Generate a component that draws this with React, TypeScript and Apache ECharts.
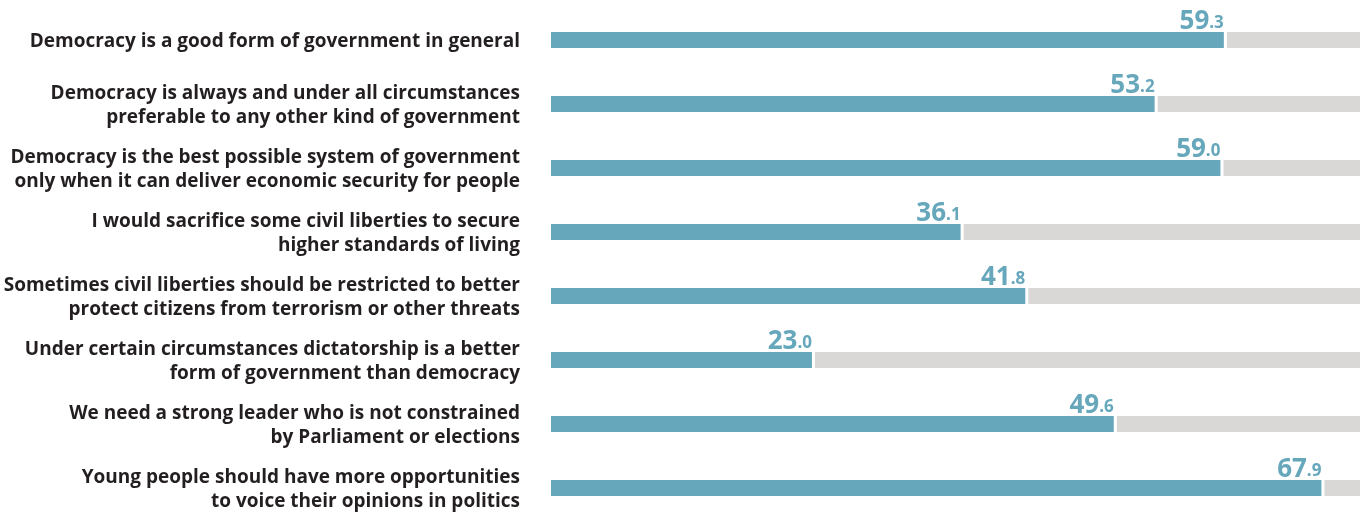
import React, { useEffect, useRef } from "react";
import * as echarts from "echarts";

const categories = [
  "Democracy is a good form of government in general",
  "Democracy is always and under all circumstances\npreferable to any other kind of government",
  "Democracy is the best possible system of government\nonly when it can deliver economic security for people",
  "I would sacrifice some civil liberties to secure\nhigher standards of living",
  "Sometimes civil liberties should be restricted to better\nprotect citizens from terrorism or other threats",
  "Under certain circumstances dictatorship is a better\nform of government than democracy",
  "We need a strong leader who is not constrained\nby Parliament or elections",
  "Young people should have more opportunities\nto voice their opinions in politics",
];
const values = [59.3, 53.2, 59.0, 36.1, 41.8, 23.0, 49.6, 67.9];
const AXIS_MAX = 71.3;
const GAP = 0.27;

const BLUE = "#66a7bb";
const GRAY = "#d9d8d6";

export default function App() {
  const ref = useRef<HTMLDivElement>(null);
  useEffect(() => {
    if (!ref.current) return;
    const chart = echarts.init(ref.current, undefined, { renderer: "svg" });
    chart.setOption({
      animation: false,
      grid: { left: 551, top: 8, right: 8, bottom: 0, containLabel: false },
      xAxis: {
        type: "value",
        min: 0,
        max: AXIS_MAX,
        show: false,
      },
      yAxis: {
        type: "category",
        data: categories,
        inverse: true,
        axisLine: { show: false },
        axisTick: { show: false },
        splitLine: { show: false },
        axisLabel: {
          margin: 31,
          align: "right",
          color: "#231f20",
          fontFamily: "Open Sans",
          fontWeight: "bold",
          fontSize: 19,
          lineHeight: 24,
          padding: [3, 0, 0, 0],
        },
      },
      series: [
        {
          type: "bar",
          stack: "s",
          data: values,
          barWidth: 16,
          itemStyle: { color: BLUE },
          label: {
            show: true,
            position: ["100%", 0],
            align: "right",
            verticalAlign: "bottom",
            offset: [0, -0.5],
            formatter: (p: any) => {
              const s = Number(p.value).toFixed(1).split(".");
              return `{a|${s[0]}}{b|.${s[1]}}`;
            },
            rich: {
              a: {
                fontFamily: "Open Sans",
                fontWeight: "bold",
                fontSize: 26,
                color: BLUE,
                lineHeight: 30,
                verticalAlign: "bottom",
              },
              b: {
                fontFamily: "Open Sans",
                fontWeight: "bold",
                fontSize: 17,
                color: BLUE,
                lineHeight: 30,
                verticalAlign: "bottom",
                padding: [0, 0, 1.5, 0],
              },
            },
          },
        },
        {
          type: "bar",
          stack: "s",
          data: values.map(() => GAP),
          barWidth: 16,
          itemStyle: { color: "rgba(0,0,0,0)" },
          silent: true,
        },
        {
          type: "bar",
          stack: "s",
          data: values.map((v) => AXIS_MAX - v - GAP),
          barWidth: 16,
          itemStyle: { color: GRAY },
          silent: true,
        },
      ],
    });
    return () => chart.dispose();
  }, []);
  return (
    <div
      ref={ref}
      style={{ position: "fixed", left: 0, top: 0, width: 1368, height: 520 }}
    />
  );
}
